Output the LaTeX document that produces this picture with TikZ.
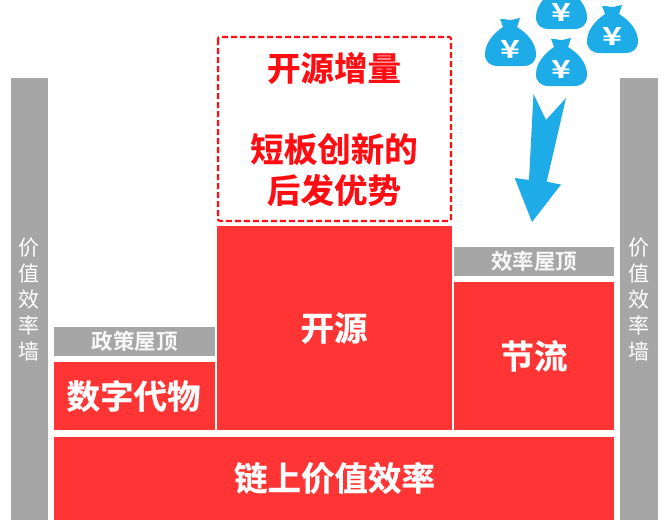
\documentclass[tikz,border=0pt]{standalone}
\usepackage{fontspec}
\setmainfont{Noto Sans CJK SC}
\newfontfamily\cjkb[FakeBold=0.4]{Noto Sans CJK SC Bold}
\newfontfamily\cjks{Noto Sans CJK SC Bold}
\definecolor{myred}{HTML}{FF3535}
\definecolor{purered}{HTML}{FF0D12}
\definecolor{mygray}{HTML}{A6A6A6}
\definecolor{myblue}{HTML}{1DACE8}
\tikzset{
  x=1pt,y=-1pt,
  redbox/.style={fill=myred,draw=none},
  graybox/.style={fill=mygray,draw=none},
  bigtxt/.style={text=white,font=\cjkb\fontsize{33.5}{36}\selectfont,inner sep=0pt},
  smalltxt/.style={text=white!92!mygray,font=\cjks\fontsize{21.5}{24}\selectfont,inner sep=0pt},
  walltxt/.style={text=white,font=\fontsize{21}{26}\selectfont,inner sep=0pt,align=center},
  redtxt/.style={text=purered,font=\cjkb\fontsize{33.5}{36}\selectfont,inner sep=0pt},
  yen/.style={text=white,font=\cjks\fontsize{25}{25}\selectfont,inner sep=0pt,xscale=1.35},
  bagfill/.style={fill=myblue,draw=none},
}
\newcommand{\moneybag}[3]{%
  \begin{scope}[shift={(#1,#2)}]
    \fill[bagfill] (18,9)
      .. controls (17,6) and (16,3) .. (15,1)
      .. controls (18,0) and (21,2) .. (25,2)
      .. controls (29,2) and (32,0) .. (35,0)
      .. controls (34,3) and (33,6) .. (32,9)
      .. controls (42,15) and (51,25) .. (51,36)
      .. controls (51,44) and (46,48) .. (38,48)
      -- (13,48)
      .. controls (5,48) and (0,44) .. (0,36)
      .. controls (0,25) and (9,15) .. (18,9) -- cycle;
    \node[yen] (#3) at (25.5,31.5) {¥};
  \end{scope}}
\begin{document}
\begin{tikzpicture}
\useasboundingbox (0,0) rectangle (670,525);
\fill[white] (0,0) rectangle (670,525);
% walls
\fill[graybox] (11,78) rectangle (48,520);
\fill[graybox] (620,78) rectangle (658,520);
\node[walltxt] (wallL) at (29.5,299) {价\\值\\效\\率\\墙};
\node[walltxt] (wallR) at (639,299) {价\\值\\效\\率\\墙};
% red boxes
\fill[redbox] (54,437) rectangle (614,520);
\node[bigtxt] (base) at (334.5,478) {链上价值效率};
\fill[redbox] (54,362) rectangle (215,430);
\node[bigtxt] (digi) at (133.5,396) {数字代物};
\fill[graybox] (54,327) rectangle (215,356);
\node[smalltxt] (roofA) at (134.5,341.5) {政策屋顶};
\fill[redbox] (217,226) rectangle (452,430);
\node[bigtxt] (open) at (334,328) {开源};
\fill[graybox] (454,247) rectangle (614,276);
\node[smalltxt] (roofB) at (534,261.5) {效率屋顶};
\fill[redbox] (454,282) rectangle (614,430);
\node[bigtxt] (save) at (534,356) {节流};
% dashed box
\draw[purered,line width=2.2pt,dash pattern=on 6pt off 3pt,rounded corners=2pt] (218,37) rectangle (451,221);
\node[redtxt] (inc) at (334,68) {开源增量};
\node[redtxt] (adv1) at (334,149) {短板创新的};
\node[redtxt] (adv2) at (334,190) {后发优势};
% arrow
\fill[myblue] (533.5,94) -- (546,120) -- (566,98) -- (546.7,181.7) -- (561,184.5) -- (532,222) -- (514.7,178) -- (529,180) -- cycle;
% bags
\moneybag{536}{-19}{y1}
\moneybag{587}{5}{y2}
\moneybag{485}{18}{y3}
\moneybag{536}{38}{y4}
\end{tikzpicture}
\end{document}
